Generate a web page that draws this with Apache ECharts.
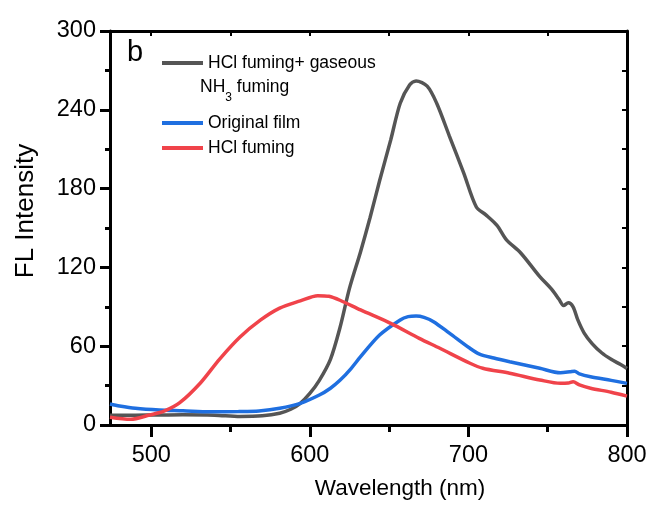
<!DOCTYPE html>
<html><head><meta charset="utf-8">
<script src="https://cdn.jsdelivr.net/npm/echarts@6/dist/echarts.min.js"></script>
<style>html,body{margin:0;padding:0;background:#fff}#c{width:651px;height:508px}</style>
</head><body><div id="c"></div>
<script>
// ---- data ----
const seriesNames = ['HCl fuming+ gaseous NH3 fuming', 'Original film', 'HCl fuming'];
const grayX = [474,490,505,520,540,556,570,581,588,594,600,606,613,619,625,632,638,644,651,657,663,667,674,680,688,697,705,711,718,724,733,745,752,757,760,763,766,769,773,778,784,790,796,800];
const grayY = [7.5,7.5,7.6,7.8,7.5,6.5,7,9,12,16.5,24,34,50,74,104,132,158,186,217,245,259,262,258,245,220,192,166,160,152,141,131,113,104,96,91,93,90,80,70,62,55,50,46,43];
const blueX = [474,480,490,505,520,537,555,568,581,594,606,613,619,626,632,644,657,662,667,672,678,688,701,707,716,726,745,758,764,767,770,777,790,800];
const blueY = [16,14.5,12.7,11.4,10.8,10,10.2,10.7,12.7,16.5,22.8,28,34,43,52,68.5,80,82.5,83,82,78.7,70,58.4,54,51,48.2,43.2,39.8,40.5,41,39,36.8,34,31.7];
const redX = [474,487,499,508,518,531,543,556,569,581,594,605,612,619,632,651,669,682,701,709,726,745,758,763,766,770,777,790,800];
const redY = [5.9,4.3,7.6,10.5,17,32,50,67,80,89,94.5,98.5,98,95,87.6,77.4,66,58.4,47,43.2,39.4,34.3,31.7,32,33,30.5,28,25,22];
const xMin = 474, xMax = 800;
const xTicks = [500, 600, 700, 800];
const xMinorTicks = [550, 650, 750];
const xTopTicks = [500, 550, 600, 650, 700, 750, 800];
const yMin = 0, yMax = 300, yInterval = 60;

// ---- chart ----
const REG = '"Liberation Sans", Arial, sans-serif';
const colors = ['#555555', '#1f6fe0', '#f0434a'];
const zip = (xs, ys) => xs.map((x, i) => [x, ys[i]]);

const chart = echarts.init(document.getElementById('c'));
const axisLineStyle = { color: '#000', width: 3 };
chart.setOption({
  animation: false,
  backgroundColor: '#fff',
  grid: { left: 110, right: 24, top: 31, bottom: 83, containLabel: false },
  xAxis: [
    { type: 'value', min: xMin, max: xMax, position: 'bottom',
      axisLine: { show: true, onZero: false, lineStyle: axisLineStyle },
      axisTick: { show: true, customValues: xTicks, length: 12, inside: false, lineStyle: { color: '#000', width: 3 } },
      axisLabel: { customValues: xTicks, fontSize: 23.5, fontFamily: REG, color: '#000', margin: 19 },
      splitLine: { show: false } },
    { type: 'value', min: xMin, max: xMax, position: 'bottom',
      axisLine: { show: false, onZero: false },
      axisTick: { show: true, customValues: xMinorTicks, length: 7, inside: false, lineStyle: { color: '#000', width: 3 } },
      axisLabel: { show: false }, splitLine: { show: false } },
    { type: 'value', min: xMin, max: xMax, position: 'top',
      axisLine: { show: true, onZero: false, lineStyle: axisLineStyle },
      axisTick: { show: true, customValues: xTopTicks, length: 5, inside: true, lineStyle: { color: '#000', width: 2 } },
      axisLabel: { show: false }, splitLine: { show: false } }
  ],
  yAxis: [
    { type: 'value', min: yMin, max: yMax, interval: yInterval, position: 'left',
      axisLine: { show: true, onZero: false, lineStyle: axisLineStyle },
      axisTick: { show: true, length: 10, inside: false, lineStyle: { color: '#000', width: 3 } },
      minorTick: { show: true, splitNumber: 2, length: 5, lineStyle: { color: '#000', width: 3 } },
      axisLabel: { fontSize: 23.5, fontFamily: REG, color: '#000', margin: 14 },
      splitLine: { show: false } },
    { type: 'value', min: yMin, max: yMax, interval: yInterval / 2, position: 'right',
      axisLine: { show: true, onZero: false, lineStyle: axisLineStyle },
      axisTick: { show: true, length: 5, inside: true, lineStyle: { color: '#000', width: 2 } },
      axisLabel: { show: false }, splitLine: { show: false } }
  ],
  series: [
    { name: seriesNames[0], type: 'line', data: zip(grayX, grayY), smooth: 0.3, showSymbol: false,
      lineStyle: { color: colors[0], width: 3.5 } },
    { name: seriesNames[1], type: 'line', data: zip(blueX, blueY), smooth: 0.3, showSymbol: false,
      lineStyle: { color: colors[1], width: 3.5 } },
    { name: seriesNames[2], type: 'line', data: zip(redX, redY), smooth: 0.3, showSymbol: false,
      lineStyle: { color: colors[2], width: 3.5 } }
  ],
  graphic: [
    { type: 'text', left: 127, top: 38, style: { text: 'b', font: '29px ' + REG, fill: '#000' } },
    { type: 'line', shape: { x1: 162, y1: 63, x2: 203, y2: 63 }, style: { stroke: colors[0], lineWidth: 4 } },
    { type: 'text', x: 208, y: 63, style: { text: 'HCl fuming+ gaseous', font: '17.5px ' + REG, fill: '#000', verticalAlign: 'middle' } },
    { type: 'text', x: 200, y: 91, style: { text: '{n|NH}{s|3}{n| fuming}', verticalAlign: 'middle', fill: '#000',
        rich: { n: { fontSize: 17.5, fontFamily: REG, lineHeight: 20, verticalAlign: 'top' },
                s: { fontSize: 12, fontFamily: REG, lineHeight: 26, verticalAlign: 'bottom' } } } },
    { type: 'line', shape: { x1: 162, y1: 123, x2: 203, y2: 123 }, style: { stroke: colors[1], lineWidth: 4 } },
    { type: 'text', x: 208, y: 123, style: { text: 'Original film', font: '17.5px ' + REG, fill: '#000', verticalAlign: 'middle' } },
    { type: 'line', shape: { x1: 162, y1: 148, x2: 203, y2: 148 }, style: { stroke: colors[2], lineWidth: 4 } },
    { type: 'text', x: 208, y: 148, style: { text: 'HCl fuming', font: '17.5px ' + REG, fill: '#000', verticalAlign: 'middle' } },
    { type: 'text', x: 400, y: 489, style: { text: 'Wavelength (nm)', font: '22.5px ' + REG, fill: '#000', align: 'center', verticalAlign: 'middle' } },
    { type: 'text', x: 26, y: 211, rotation: Math.PI / 2, style: { text: 'FL Intensity', font: '26px ' + REG, fill: '#000', align: 'center', verticalAlign: 'middle' } }
  ]
});
</script></body></html>
